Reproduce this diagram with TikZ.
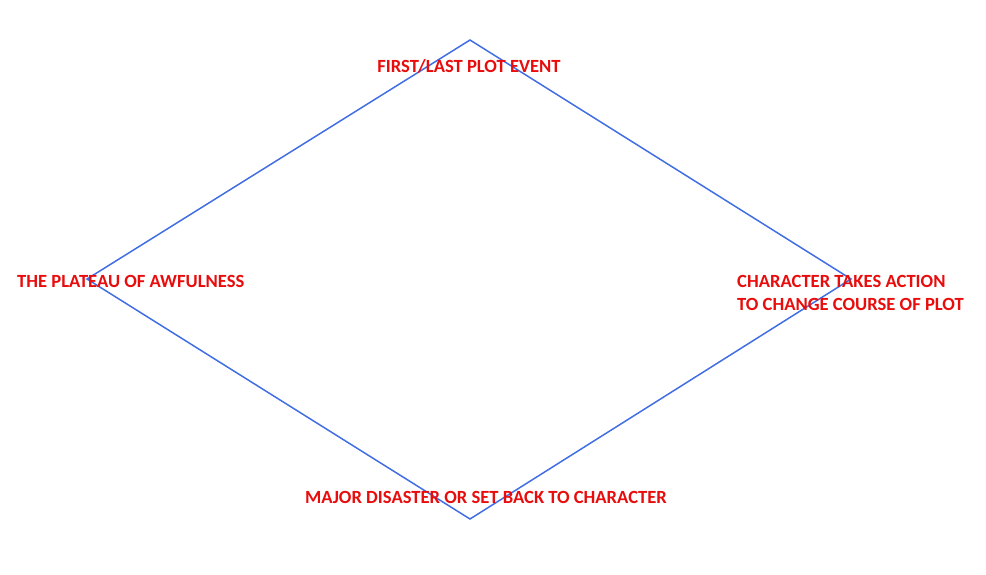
\documentclass[tikz,border=0pt]{standalone}
\usepackage{fontspec}
\setmainfont{Carlito}
\usepackage{xcolor}
\usepackage{tikz}
\usetikzlibrary{positioning}
\definecolor{plotred}{RGB}{232,12,12}
\definecolor{plotblue}{RGB}{66,110,228}

\begin{document}
\begin{tikzpicture}[x=1pt,y=-1pt,
      edge/.style={draw=plotblue,line width=1.5pt,line join=miter},
      beat/.style={text=plotred,font=\fontsize{18.6}{23}\selectfont\bfseries,inner sep=0pt,anchor=base}]
      \useasboundingbox (0,0) rectangle (986,574);
      \coordinate (top) at (470,40);
      \coordinate (left) at (87,279);
      \coordinate (right) at (851,279);
      \coordinate (bottom) at (470,519);
      \draw[edge] (top) -- (right) -- (bottom) -- (left) -- cycle;
      \node[beat] (first) at (469,72) {FIRST/LAST PLOT EVENT};
      \node[beat,anchor=base west] (plateau) at (17,287) {THE PLATEAU OF AWFULNESS};
      \node[beat,anchor=base west,align=left] (action) at (737,310) {CHARACTER TAKES ACTION\\TO CHANGE COURSE OF PLOT};
      \node[beat] (disaster) at (486,503) {MAJOR DISASTER OR SET BACK TO CHARACTER};
    \end{tikzpicture}
\end{document}
